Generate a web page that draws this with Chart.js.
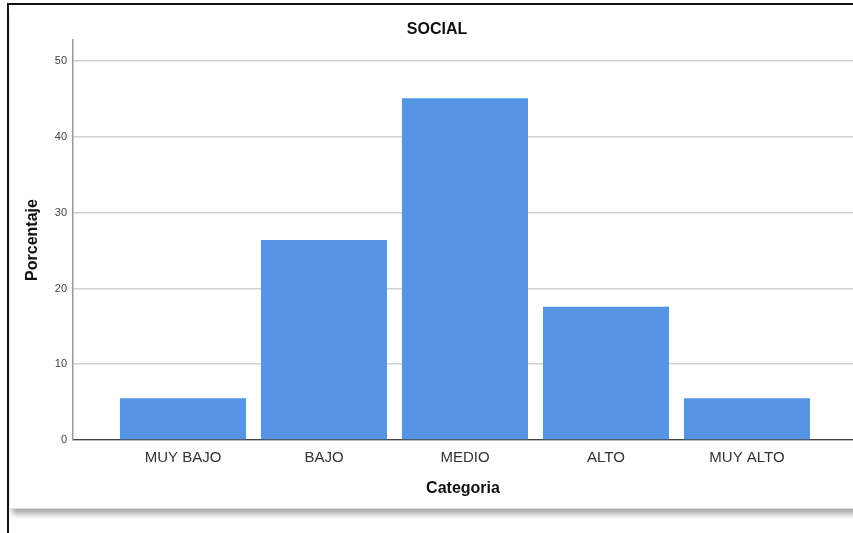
<!DOCTYPE html>
<html>
<head>
<meta charset="utf-8">
<script src="https://cdn.jsdelivr.net/npm/chart.js@4"></script>
<style>
  body { margin: 0; width: 853px; height: 533px; overflow: hidden; background: #fff; position: relative; }
  .marco { position: absolute; left: 7px; top: 3px; width: 900px; height: 600px; border-left: 2px solid #111; border-top: 2px solid #111; }
  .panel { position: absolute; left: 10px; top: 5px; width: 900px; height: 503px; background: #fff; border-bottom: 1px solid #ddd; box-shadow: 0 7px 6px -2px rgba(0,0,0,0.35); }
  #grafica { position: absolute; left: 8px; top: 0; }
</style>
</head>
<body>
<div class="marco"></div>
<div class="panel"></div>
<canvas id="grafica" width="858" height="533"></canvas>
<script>
const categorias = ["MUY BAJO", "BAJO", "MEDIO", "ALTO", "MUY ALTO"];
const porcentajes = [5.5, 26.4, 45.1, 17.6, 5.5];
const ticksY = [0, 10, 20, 30, 40, 50];

const fuente = "Arial, 'Liberation Sans', sans-serif";

const ctx = document.getElementById("grafica").getContext("2d");
new Chart(ctx, {
  type: "bar",
  data: {
    datasets: [{
      data: porcentajes.map((v, i) => ({ x: i, y: v })),
      backgroundColor: "#5595e4",
      borderWidth: 0,
      barPercentage: 0.894,
      categoryPercentage: 1,
    }],
  },
  options: {
    responsive: false,
    animation: false,
    layout: { padding: { left: 13, right: 13, top: 0, bottom: 23 } },
    plugins: {
      legend: { display: false },
      tooltip: { enabled: false },
      title: {
        display: true,
        text: "SOCIAL",
        color: "#111",
        font: { family: fuente, size: 16, weight: "bold" },
        padding: { top: 20, bottom: 0.8 },
      },
    },
    scales: {
      x: {
        type: "linear",
        offset: false,
        min: -0.78,
        max: 4.752,
        afterFit: (scale) => { scale.height = 70; },
        grid: { display: false, drawTicks: false },
        border: { display: true, color: "#444", width: 1.2 },
        ticks: {
          stepSize: 1,
          includeBounds: false,
          autoSkip: false,
          maxRotation: 0,
          padding: 9,
          color: "#333",
          font: { family: fuente, size: 15 },
          callback: (v) => categorias[v] !== undefined && Number.isInteger(v) ? categorias[v] : "",
        },
        title: {
          display: true,
          text: "Categoria",
          color: "#111",
          font: { family: fuente, size: 16, weight: "bold" },
          padding: { top: 0, bottom: 11.4 },
        },
      },
      y: {
        min: 0,
        max: 52.8,
        afterFit: (scale) => { scale.width = 52; },
        afterBuildTicks: (scale) => { scale.ticks = ticksY.map((v) => ({ value: v })); },
        grid: { color: "#d2d2d2", lineWidth: 1.5, drawTicks: false },
        border: { display: true, color: "#999", width: 1.5 },
        ticks: {
          padding: 6,
          color: "#444",
          font: { family: fuente, size: 11 },
        },
        title: {
          display: true,
          text: "Porcentaje",
          color: "#111",
          font: { family: fuente, size: 16, weight: "bold" },
          padding: { top: 2.4, bottom: 0 },
        },
      },
    },
  },
});
</script>
</body>
</html>
